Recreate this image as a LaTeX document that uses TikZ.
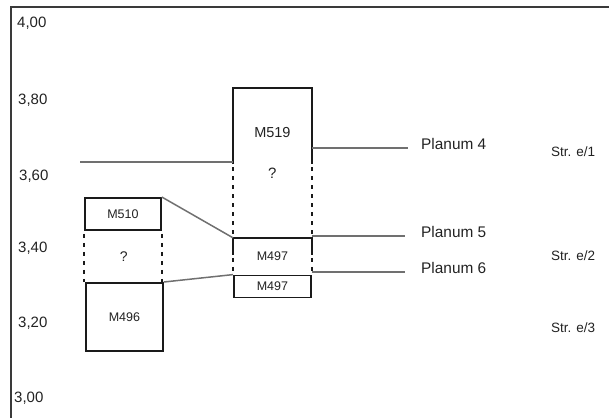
\documentclass[tikz,border=0pt]{standalone}
\usepackage{fontspec}
\setmainfont{Liberation Sans}
\usepackage{tikz}
\usetikzlibrary{positioning,calc}
\definecolor{wallc}{HTML}{1A1A1A}
\definecolor{levelc}{HTML}{707070}
\definecolor{framec}{HTML}{3A3A3A}
\definecolor{textc}{HTML}{222222}
\tikzset{
  layer/.style={draw=wallc, line width=1.8pt, rectangle, inner sep=0pt, text=textc,
                font=\fontsize{12.5}{14}\selectfont},
  slot/.style={layer, draw=none},
  wall/.style={draw=wallc, line width=1.8pt},
  gap/.style={draw=wallc, line width=2.6pt, dash pattern=on 4pt off 5pt, dash phase=6pt},
  level/.style={draw=levelc, line width=1.5pt},
  tick/.style={anchor=west, inner sep=0pt, text=textc, font=\fontsize{15}{18}\selectfont},
  plan/.style={anchor=base west, inner sep=0pt, text=textc, font=\fontsize{15.4}{18}\selectfont},
  strat/.style={anchor=west, inner sep=0pt, text=textc, font=\fontsize{13.5}{16}\selectfont},
  qmark/.style={inner sep=0pt, text=textc, font=\fontsize{14}{16}\selectfont},
}
\begin{document}
\begin{tikzpicture}[x=1pt, y=-1pt]
  \useasboundingbox (0,0) rectangle (609,418);
  \draw[framec, line width=1.2pt] (609,7) -- (11,7) -- (11,418);
  \foreach \a/\b/\xx/\yy in {4/00/17/23, 3/80/18/100, 3/60/19/176, 3/40/18/248, 3/20/18/323, 3/00/14/398}
    \node[tick] (tick\a\b) at (\xx,\yy) {\a,\b};

  \node[slot, minimum width=77pt, minimum height=148pt, anchor=north west] (m519) at (233,88) {};
  \node[qmark, font=\fontsize{14.5}{16}\selectfont] (t519) at ([yshift=-45pt]m519.north) {M519};
  \node[qmark, font=\fontsize{15}{16}\selectfont] (q519) at ([yshift=-85pt]m519.north) {?};
  \node[slot, minimum width=77pt, minimum height=35pt, below=0pt of m519] (m497a) {M497};
  \node[layer, minimum width=77pt, minimum height=22pt, below=0pt of m497a] (m497b) {M497};
  \node[layer, minimum width=76pt, minimum height=32pt, anchor=north west] (m510) at (84,197) {M510};
  \node[layer, minimum width=77pt, minimum height=68pt, anchor=north west] (m496) at (85,282) {M496};
  \node[qmark] (q510) at ($(m510.south)!0.5!(m496.north)$) {?};

  \draw[wall] ([yshift=-76pt]m519.north west) -- (m519.north west) -- (m519.north east) -- ([yshift=-76pt]m519.north east);
  \draw[gap] ([yshift=-76pt]m519.north west) -- (m519.south west);
  \draw[gap] ([yshift=-76pt]m519.north east) -- (m519.south east);
  \draw[wall] ([yshift=-17pt]m497a.north west) -- (m497a.north west) -- (m497a.north east) -- ([yshift=-17pt]m497a.north east);
  \draw[gap] ([yshift=-17pt]m497a.north west) -- (m497a.south west);
  \draw[gap] ([yshift=-17pt]m497a.north east) -- (m497a.south east);
  \draw[gap] (m510.south west) -- (m510.south west |- m496.north);
  \draw[gap] (m510.south east) -- (m510.south east |- m496.north);

  \coordinate (l4w) at (80,162);
  \draw[level] (l4w) -- (l4w -| m519.west);
  \draw[level] (m510.north east) -- (m497a.north west);
  \draw[level] (m496.north east) -- (m497b.north west);

  \node[plan] (p4) at (421,149.5) {Planum 4};
  \node[plan] (p5) at (421,237.5) {Planum 5};
  \node[plan] (p6) at (421,273.5) {Planum 6};
  \coordinate (p4l) at ($(p4.base west)+(-13,-1.5)$);
  \coordinate (p5l) at ($(p5.base west)+(-16,-1.5)$);
  \coordinate (p6l) at ($(p6.base west)+(-16,-1.5)$);
  \draw[level] (p4l -| m519.east) -- (p4l);
  \draw[level] (p5l -| m497a.east) -- (p5l);
  \draw[level] (p6l -| m497b.east) -- (p6l);

  \node[strat] (s1) at (551,152) {Str. e/1};
  \node[strat] (s2) at (551,256) {Str. e/2};
  \node[strat] (s3) at (551,328) {Str. e/3};
\end{tikzpicture}
\end{document}
